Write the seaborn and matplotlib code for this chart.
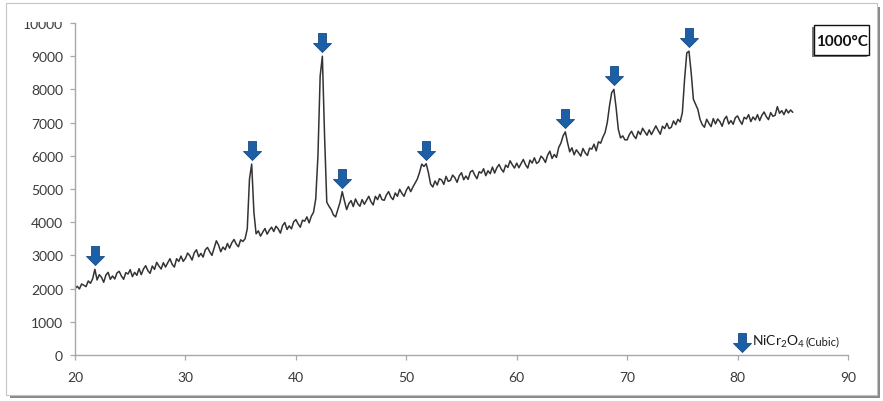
import numpy as np
import pandas as pd
import matplotlib
matplotlib.use("Agg")
import matplotlib.pyplot as plt
import seaborn as sns
from matplotlib.path import Path
from matplotlib.patches import Rectangle
from matplotlib.transforms import Bbox, TransformedBbox

# XRD scan: 2-theta from 20 to 85 degrees, 0.2 degree step
scan_start = 20.0
scan_step = 0.2
intensity = [
    2000, 2070, 1990, 2140, 2100, 2060, 2230, 2160, 2300, 2580,
    2260, 2420, 2340, 2190, 2410, 2490, 2280, 2380, 2290, 2470,
    2520, 2380, 2280, 2480, 2440, 2570, 2360, 2490, 2400, 2600,
    2420, 2590, 2690, 2540, 2460, 2680, 2580, 2790, 2680, 2590,
    2780, 2650, 2780, 2900, 2730, 2650, 2900, 2820, 2980, 2820,
    2910, 3070, 2990, 2860, 3080, 3170, 2960, 3060, 2950, 3170,
    3240, 3110, 3000, 3220, 3440, 3310, 3110, 3250, 3170, 3360,
    3220, 3380, 3480, 3340, 3260, 3470, 3420, 3500, 3800, 5300,
    5750, 4300, 3650, 3740, 3580, 3700, 3810, 3640, 3760, 3850,
    3720, 3880, 3800, 3670, 3900, 3990, 3780, 3890, 3800, 4010,
    4080, 3950, 3850, 4060, 4030, 4160, 3980, 4180, 4300, 4700,
    6000, 8400, 9000, 6600, 4600, 4480, 4380, 4220, 4160, 4380,
    4600, 4920, 4640, 4380, 4560, 4650, 4470, 4700, 4560, 4480,
    4680, 4540, 4660, 4780, 4620, 4520, 4780, 4680, 4840, 4680,
    4660, 4820, 4920, 4760, 4680, 4880, 4780, 4990, 4870, 4780,
    4960, 5070, 4920, 5060, 5180, 5300, 5500, 5750, 5680, 5760,
    5500, 5150, 5060, 5240, 5120, 5310, 5270, 5140, 5380, 5230,
    5260, 5420, 5340, 5200, 5400, 5490, 5280, 5390, 5290, 5510,
    5560, 5420, 5310, 5520, 5480, 5610, 5400, 5550, 5460, 5660,
    5480, 5640, 5740, 5600, 5510, 5720, 5650, 5850, 5730, 5630,
    5780, 5640, 5770, 5890, 5730, 5630, 5870, 5780, 5940, 5770,
    5820, 5990, 5920, 5800, 6020, 6140, 5920, 6040, 5950, 6250,
    6380, 6600, 6720, 6400, 6120, 6240, 6030, 6180, 6090, 5990,
    6220, 6090, 6010, 6230, 6200, 6350, 6150, 6420, 6380, 6560,
    6700, 7000, 7500, 7900, 8000, 7450, 6800, 6540, 6600, 6480,
    6480, 6640, 6740, 6600, 6520, 6740, 6640, 6830, 6720, 6620,
    6780, 6640, 6770, 6900, 6770, 6650, 6890, 6820, 6980, 6820,
    6860, 7050, 6940, 7100, 7020, 7300, 8300, 9100, 9150, 8500,
    7700, 7550, 7400, 7100, 6940, 6860, 7100, 6980, 6880, 7120,
    6960, 7110, 7030, 6890, 7100, 7190, 6960, 7060, 6950, 7150,
    7200, 7060, 6950, 7160, 7110, 7240, 7030, 7170, 7080, 7240,
    7060, 7220, 7320, 7180, 7090, 7300, 7190, 7220, 7480, 7280,
    7360, 7240, 7400, 7290, 7380, 7310,
]

# NiCr2O4 (cubic) reflections marked with arrows
peak_positions = [21.8, 36.0, 42.4, 44.2, 51.8, 64.4, 68.8, 75.6]

x_ticks = [20, 30, 40, 50, 60, 70, 80, 90]
y_ticks = [0, 1000, 2000, 3000, 4000, 5000, 6000, 7000, 8000, 9000, 10000]
temperature_label = "1000°C"
phase_name = r"NiCr$_2$O$_4$"
phase_structure = "(Cubic)"

W, H = 883, 402

sns.set_theme(style="white")
plt.rcParams["font.family"] = ["Lato", "DejaVu Sans"]
plt.rcParams["mathtext.fontset"] = "custom"
plt.rcParams["mathtext.rm"] = "Lato"
plt.rcParams["mathtext.it"] = "Lato"
plt.rcParams["mathtext.bf"] = "Lato:bold"

fig = plt.figure(figsize=(W / 100, H / 100), dpi=100)
fig.patch.set_facecolor("white")


def fx(px):
    return px / W


def fy(py):
    return 1 - py / H


# framed panel with a drop shadow
shadow = Rectangle((fx(10), fy(399)), fx(870), 391 / H, transform=fig.transFigure,
                   facecolor="#8a8a8a", edgecolor="none", zorder=0)
panel = Rectangle((fx(6), fy(396)), fx(871), 392 / H, transform=fig.transFigure,
                  facecolor="white", edgecolor="#c4c4c4", linewidth=0.8, zorder=0.5)
fig.patches.extend([shadow, panel])

ax = fig.add_axes([fx(75), fy(356), fx(848 - 75), (356 - 24) / H])
ax.set_zorder(2)
ax.patch.set_alpha(0)

data = pd.DataFrame({
    "two_theta": scan_start + scan_step * np.arange(len(intensity)),
    "intensity": intensity,
})

sns.lineplot(data=data, x="two_theta", y="intensity", ax=ax, color="#333333",
             linewidth=1.1, estimator=None, sort=False)

# down-arrow marker, tip sits a few pixels above the anchor point
arrow_path = Path(
    [(0, 4), (9, 13), (4, 13), (4, 23), (-4, 23), (-4, 13), (-9, 13), (0, 4)],
    [Path.MOVETO] + [Path.LINETO] * 6 + [Path.CLOSEPOLY],
)
arrow_size = 1.44 * 23

peak_idx = [int(round((p - scan_start) / scan_step)) for p in peak_positions]
peak_heights = [intensity[i] for i in peak_idx]
ax.plot(peak_positions, peak_heights, linestyle="none", marker=arrow_path,
        markersize=arrow_size, markerfacecolor="#1d5fa7", markeredgecolor="#164b86",
        markeredgewidth=0.6, clip_on=False, zorder=5)

# phase key in the lower right corner
ax.plot([80.4], [-30], linestyle="none", marker=arrow_path, markersize=arrow_size,
        markerfacecolor="#1d5fa7", markeredgecolor="#164b86", markeredgewidth=0.6,
        clip_on=False, zorder=5)
fig.text(fx(752), fy(342), phase_name, fontsize=10, color="#1a1a1a",
         ha="left", va="center")
fig.text(fx(805), fy(342), phase_structure, fontsize=8, color="#1a1a1a",
         ha="left", va="center")

ax.set_xlim(20, 90)
ax.set_ylim(0, 10000)
ax.set_xticks(x_ticks)
ax.set_yticks(y_ticks)
ax.set_xticklabels([str(t) for t in x_ticks])
# the uppermost label is drawn separately so it can be cropped at the panel margin
ax.set_yticklabels([str(t) for t in y_ticks[:-1]] + [""])
ax.set_xlabel("")
ax.set_ylabel("")

for side in ["top", "right"]:
    ax.spines[side].set_visible(False)
for side in ["left", "bottom"]:
    ax.spines[side].set_color("#a8a8a8")
    ax.spines[side].set_linewidth(1.0)

ax.tick_params(axis="both", which="major", direction="out", length=3.6, width=0.9,
               color="#a8a8a8", labelsize=10, labelcolor="#3a3a3a")
ax.tick_params(axis="x", pad=8, bottom=True)
ax.tick_params(axis="y", pad=5, left=True)

top_label = fig.text(fx(62.5), fy(24), str(y_ticks[-1]), fontsize=10, color="#3a3a3a",
                     ha="right", va="center_baseline", zorder=3)
top_label.set_clip_box(TransformedBbox(Bbox.from_extents(0, 0, 1, fy(22.5)),
                                       fig.transFigure))
top_label.set_clip_on(True)
top_margin = Rectangle((fx(14), fy(22)), fx(52), 15 / H, transform=fig.transFigure,
                       facecolor="white", edgecolor="none", zorder=10)
fig.patches.append(top_margin)

# temperature tag, boxed with a shadow
tag_shadow = Rectangle((fx(812), fy(58)), fx(55), 30 / H, transform=fig.transFigure,
                       facecolor="#7a7a7a", edgecolor="none", zorder=5)
tag_box = Rectangle((fx(814), fy(56)), fx(55), 30 / H, transform=fig.transFigure,
                    facecolor="white", edgecolor="#111111", linewidth=1.0, zorder=6)
fig.patches.extend([tag_shadow, tag_box])
fig.text(fx(842), fy(41.5), temperature_label, fontsize=11, fontweight="bold",
         color="#111111", ha="center", va="center", zorder=7)

fig.savefig("out.png", dpi=100)
